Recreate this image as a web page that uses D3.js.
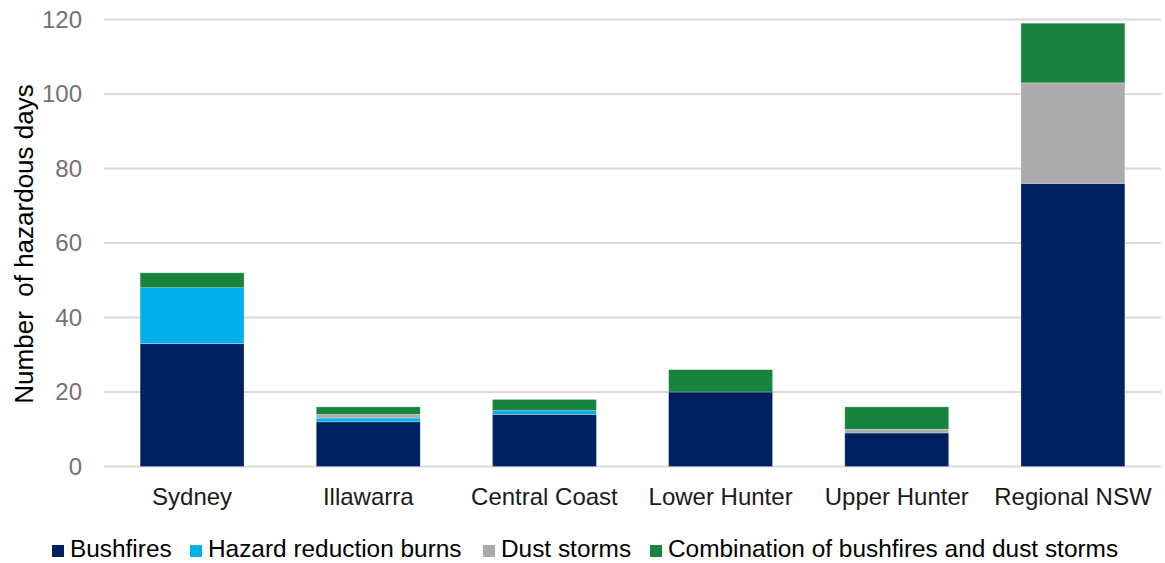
<!DOCTYPE html>
<html>
<head>
<meta charset="utf-8">
<script src="https://cdn.jsdelivr.net/npm/d3@7/dist/d3.min.js"></script>
<style>
  body { margin: 0; background: #fff; }
  svg { display: block; font-family: "Liberation Sans", Arial, sans-serif; }
</style>
</head>
<body>
<svg id="chart" width="1165" height="563"></svg>
<script>
// Hazardous air-quality days by region and cause
const regions = ["Sydney", "Illawarra", "Central Coast", "Lower Hunter", "Upper Hunter", "Regional NSW"];
const bushfires = [33, 12, 14, 20, 9, 76];
const hazardReductionBurns = [15, 1, 1, 0, 0, 0];
const dustStorms = [0, 1, 0, 0, 1, 27];
const combination = [4, 2, 3, 6, 6, 16];
const seriesNames = ["Bushfires", "Hazard reduction burns", "Dust storms", "Combination of bushfires and dust storms"];
const seriesColors = ["#002060", "#00AEEA", "#ABABAB", "#188241"];
const yTicks = [0, 20, 40, 60, 80, 100, 120];

const keys = ["b", "h", "d", "c"];
const rows = regions.map((r, i) => ({
  region: r,
  b: bushfires[i], h: hazardReductionBurns[i], d: dustStorms[i], c: combination[i]
}));

const svg = d3.select("#chart");
const x = d3.scaleBand().domain(regions).range([104, 1161]).paddingInner(0.41).paddingOuter(0.205);
const y = d3.scaleLinear().domain([0, 120]).range([466.5, 19.5]);

// horizontal gridlines
svg.append("g").selectAll("line").data(yTicks).join("line")
  .attr("x1", 104).attr("x2", 1161)
  .attr("y1", d => y(d)).attr("y2", d => y(d))
  .attr("stroke", "#d9d9d9").attr("stroke-width", 2);

// y axis tick labels
const yAxis = d3.axisLeft(y).tickValues(yTicks).tickSize(0).tickPadding(0);
const gy = svg.append("g").attr("transform", "translate(82,0)").call(yAxis);
gy.select(".domain").remove();
gy.selectAll("text").attr("font-size", 24).attr("fill", "#767171")
  .attr("font-family", "Liberation Sans, Arial, sans-serif");

// stacked bars
const stack = d3.stack().keys(keys)(rows);
svg.append("g").selectAll("g").data(stack).join("g")
  .attr("fill", (d, i) => seriesColors[i])
  .selectAll("rect").data(d => d.filter(s => s[1] - s[0] > 0)).join("rect")
  .attr("x", d => x(d.data.region))
  .attr("width", x.bandwidth())
  .attr("y", d => y(d[1]))
  .attr("height", d => y(d[0]) - y(d[1]))
  .attr("stroke", "#ffffff").attr("stroke-opacity", 0.35).attr("stroke-width", 0.75);

// x axis category labels
const xAxis = d3.axisBottom(x).tickSize(0).tickPadding(0);
const gx = svg.append("g").attr("transform", "translate(0,505)").call(xAxis);
gx.select(".domain").remove();
gx.selectAll("text").attr("font-size", 24).attr("fill", "#1a1a1a").attr("dy", 0)
  .attr("font-family", "Liberation Sans, Arial, sans-serif");

// y axis title
svg.append("text")
  .attr("transform", "translate(33,244) rotate(-90)")
  .attr("text-anchor", "middle")
  .attr("font-size", 26).attr("fill", "#000")
  .style("white-space", "pre")
  .text("Number  of hazardous days");

// legend
const legendX = [52, 190, 483, 650];
const legend = svg.append("g").selectAll("g").data(seriesNames).join("g")
  .attr("transform", (d, i) => `translate(${legendX[i]},557)`);
legend.append("rect").attr("x", 0).attr("y", -12).attr("width", 12).attr("height", 12)
  .attr("fill", (d, i) => seriesColors[i]);
legend.append("text").attr("x", 18).attr("y", 0).attr("font-size", 24.4).attr("fill", "#000")
  .text(d => d);
</script>
</body>
</html>
